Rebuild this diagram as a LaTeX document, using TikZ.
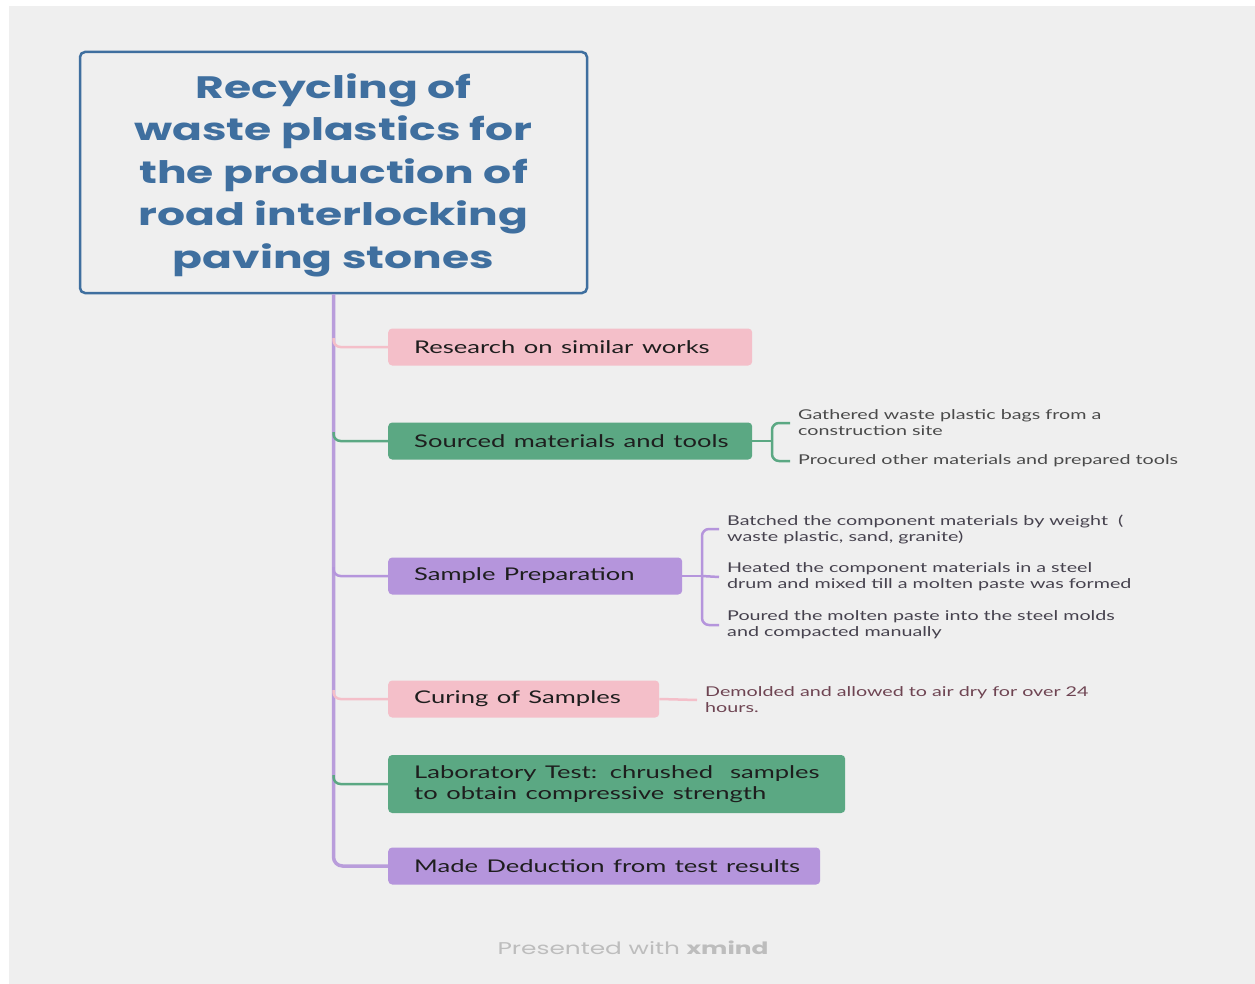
\documentclass[tikz,border=0pt]{standalone}
\usepackage{fontspec}
\usepackage{graphicx}
\setmainfont{Lato}
\newfontfamily\titlefont{Poppins}
\usetikzlibrary{calc}
\newcommand{\hs}[1]{\scalebox{1.46}[1]{#1}}
\newcommand{\hst}[1]{\scalebox{1.42}[1]{#1}}
\definecolor{bg}{HTML}{EFEFEF}
\definecolor{rootblue}{HTML}{3F6F9F}
\definecolor{pinkf}{HTML}{F4BFC9}
\definecolor{greenf}{HTML}{5BA883}
\definecolor{purplef}{HTML}{B595DC}
\definecolor{spinec}{HTML}{B99DDB}
\definecolor{darktxt}{HTML}{1E1E1E}
\definecolor{subtxt}{HTML}{4A4A4A}
\definecolor{subtxtb}{HTML}{46424E}
\definecolor{maroontxt}{HTML}{6E4452}
\definecolor{wm}{HTML}{BDBDBD}
\tikzset{
  topic/.style={rounded corners=4pt, minimum height=37pt, anchor=west, align=left,
    inner xsep=26pt, text=darktxt, font=\fontsize{17.5}{21}\selectfont},
  pinktopic/.style={topic, fill=pinkf},
  greentopic/.style={topic, fill=greenf},
  purpletopic/.style={topic, fill=purplef},
  subtopic/.style={anchor=west, align=left, inner xsep=8pt, inner ysep=2pt,
    text=subtxt, font=\fontsize{13.5}{16}\selectfont},
  brpink/.style={draw=pinkf, line width=2.5pt, rounded corners=7pt},
  brgreen/.style={draw=greenf, line width=2.5pt, rounded corners=7pt},
  brpurple/.style={draw=purplef, line width=2.5pt, rounded corners=7pt},
}
\begin{document}
\begin{tikzpicture}[x=1pt,y=-1pt]
\useasboundingbox (0,0) rectangle (1255,984);
\fill[white] (0,0) rectangle (1255,984);
\fill[bg] (9,6) rectangle (1255,984);

% root
\node[draw=rootblue, line width=2.5pt, rounded corners=5pt, minimum width=507pt,
  minimum height=241pt, text=rootblue, align=center,
  font=\titlefont\bfseries\fontsize{31}{42.5}\selectfont] (root) at (333.5,172.5)
  {};
\node[text=rootblue, align=center, font=\titlefont\bfseries\fontsize{31}{42.5}\selectfont]
  (title) at (333.5,175)
  {\hst{Recycling of}\\\hst{waste plastics for}\\\hst{the production of}\\\hst{road interlocking}\\\hst{paving stones}};

% main topics
\node[pinktopic, text width=312pt] (n1) at (388,347) {\hs{Research on similar works}};
\node[greentopic, text width=312pt] (n2) at (388,441) {\hs{Sourced materials and tools}};
\node[purpletopic, text width=242pt] (n3) at (388,576) {\hs{Sample Preparation}};
\node[pinktopic, text width=219pt] (n4) at (388,699) {\hs{Curing of Samples}};
\node[greentopic, text width=405pt, minimum height=58pt] (n5) at (388,784)
  {\hs{Laboratory Test: chrushed\ \ samples}\\\hs{to obtain compressive strength}};
\node[purpletopic, text width=380pt] (n6) at (388,866) {\hs{Made Deduction from test results}};

% spine
\draw[draw=spinec, line width=3.5pt, rounded corners=9pt] (root.south) |- (n6.west);
% branches
\coordinate (s1) at ($(root.south |- n1.west)+(0,-9)$);
\coordinate (s2) at ($(root.south |- n2.west)+(0,-9)$);
\coordinate (s3) at ($(root.south |- n3.west)+(0,-9)$);
\coordinate (s4) at ($(root.south |- n4.west)+(0,-9)$);
\coordinate (s5) at ($(root.south |- n5.west)+(0,-9)$);
\draw[brpink] (s1) |- (n1.west);
\draw[brgreen] (s2) |- (n2.west);
\draw[brpurple] (s3) |- (n3.west);
\draw[brpink] (s4) |- (n4.west);
\draw[brgreen] (s5) |- (n5.west);

% subtopics of n2
\node[subtopic] (t21) at (790,423) {\hs{Gathered waste plastic bags from a}\\\hs{construction site}};
\node[subtopic] (t22) at (790,461) {\hs{Procured other materials and prepared tools}};
\coordinate (c2) at (772,441);
\draw[brgreen] (n2.east) -- (c2);
\draw[brgreen] (t21.west) -| (c2) |- (t22.west);

% subtopics of n3
\node[subtopic, text=subtxtb] (t31) at (719,529) {\hs{Batched the component materials by weight\ \ (}\\\hs{waste plastic, sand, granite)}};
\node[subtopic, text=subtxtb] (t32) at (719,577) {\hs{Heated the component materials in a steel}\\\hs{drum and mixed till a molten paste was formed}};
\node[subtopic, text=subtxtb] (t33) at (719,625) {\hs{Poured the molten paste into the steel molds}\\\hs{and compacted manually}};
\coordinate (c3) at (702,576);
\draw[brpurple] (n3.east) -- (c3);
\draw[brpurple] (t31.west) -| (c3) |- (t33.west);
\draw[brpurple] (c3) -- (t32.west);

% subtopic of n4
\node[subtopic, text=maroontxt] (t41) at (697,700) {\hs{Demolded and allowed to air dry for over 24}\\\hs{hours.}};
\draw[brpink] (n4.east) -- (t41.west);

% watermark
\node[text=wm, font=\titlefont\fontsize{17}{20}\selectfont] (wm) at (633,948)
  {\hs{Presented with \textbf{xmind}}};
\end{tikzpicture}
\end{document}
